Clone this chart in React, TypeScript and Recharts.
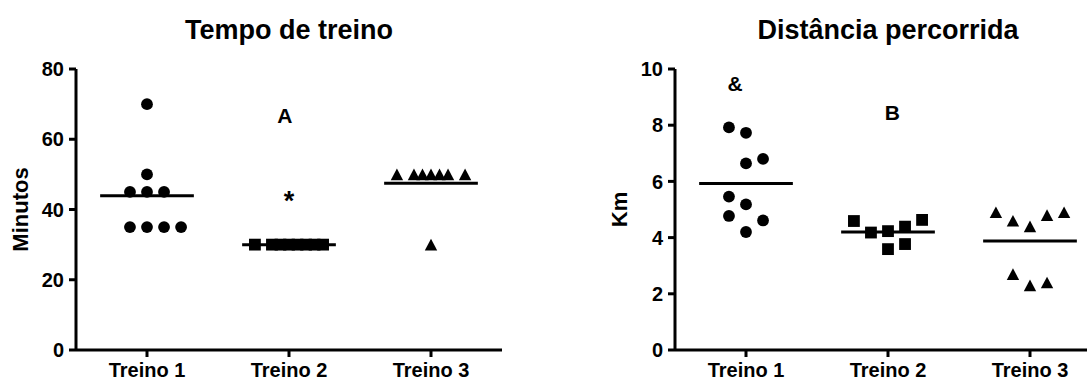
import React from 'react';
import { ScatterChart, Scatter, XAxis, YAxis, ReferenceLine, Label } from 'recharts';

const FONT = "'Liberation Sans', Arial, Helvetica, sans-serif";

const categories = ['Treino 1', 'Treino 2', 'Treino 3'];

// Tempo de treino (minutos) + horizontal jitter column of each point
const tempoT1 = [70, 50, 45, 45, 45, 35, 35, 35, 35];
const tempoT1Col = [0, 0, -2, 0, 2, -2, 0, 2, 4];
const tempoT2 = [30, 30, 30, 30, 30, 30, 30, 30];
const tempoT2Col = [-4, -2, -1, 0, 1, 2, 3, 4];
const tempoT3 = [50, 50, 50, 50, 50, 50, 50, 30];
const tempoT3Col = [-4, -2, -1, 0, 1, 2, 4, 0];
const tempoTicks = [0, 20, 40, 60, 80];

// Distância percorrida (km)
const distT1 = [7.92, 7.73, 6.64, 6.8, 5.46, 5.18, 4.77, 4.61, 4.2];
const distT1Col = [-2, 0, 0, 2, -2, 0, -2, 2, 0];
const distT2 = [4.59, 4.18, 4.23, 4.39, 4.63, 3.59, 3.77];
const distT2Col = [-4, -2, 0, 2, 4, 0, 2];
const distT3 = [4.9, 4.6, 4.4, 4.8, 4.9, 2.7, 2.3, 2.4];
const distT3Col = [-4, -2, 0, 2, 4, -2, 0, 2];
const distTicks = [0, 2, 4, 6, 8, 10];

// annotations (group position, value)
const tempoNotes = [
  { label: 'A', x: 1.97, y: 64.5, size: 21 },
  { label: '*', x: 2, y: 40, size: 27 },
];
const distNotes = [
  { label: '&', x: 0.923, y: 9.23, size: 21 },
  { label: 'B', x: 2.03, y: 8.19, size: 21 },
];

const JITTER = 0.06;
const MEAN_HALF = 0.33;

const build = (group: number, vals: number[], cols: number[]) =>
  vals.map((v, i) => ({ x: group + cols[i] * JITTER, y: v }));
const mean = (vals: number[]) => vals.reduce((a, b) => a + b, 0) / vals.length;

const CircleShape = (p: any) => <circle cx={p.cx} cy={p.cy} r={5.9} fill="#000" />;
const SquareShape = (p: any) => (
  <rect x={p.cx - 5.9} y={p.cy - 5.9} width={11.8} height={11.8} fill="#000" />
);
const TriangleShape = (p: any) => (
  <polygon
    points={`${p.cx},${p.cy - 5.8} ${p.cx - 6.2},${p.cy + 5.8} ${p.cx + 6.2},${p.cy + 5.8}`}
    fill="#000"
  />
);
const NoteShape = (p: any) => (
  <text
    x={p.cx}
    y={p.cy}
    textAnchor="middle"
    fontSize={p.payload.size}
    fontWeight="bold"
    fontFamily={FONT}
    fill="#000"
  >
    {p.payload.label}
  </text>
);

const shapes = [CircleShape, SquareShape, TriangleShape];

type PanelProps = {
  left: number;
  title: string;
  yLabel: string;
  yMax: number;
  yTicks: number[];
  groups: { vals: number[]; cols: number[] }[];
  notes: { label: string; x: number; y: number; size: number }[];
};

function Panel({ left, title, yLabel, yMax, yTicks, groups, notes }: PanelProps) {
  const tickStyle = { fill: '#000', fontSize: 20, fontWeight: 'bold', fontFamily: FONT };
  return (
    <div style={{ position: 'absolute', left, top: 0, width: 540, height: 380 }}>
      <div
        style={{
          position: 'absolute',
          left: 76,
          width: 426,
          top: 17,
          textAlign: 'center',
          fontSize: 27,
          lineHeight: '27px',
          fontWeight: 'bold',
          fontFamily: FONT,
          color: '#000',
          whiteSpace: 'nowrap',
        }}
      >
        {title}
      </div>
      <ScatterChart width={540} height={380} margin={{ top: 69, right: 38, bottom: 0, left: 0 }}>
        <XAxis
          type="number"
          dataKey="x"
          domain={[0.5, 3.5]}
          ticks={[1, 2, 3]}
          interval={0}
          allowDataOverflow
          tickFormatter={(v: number) => categories[Math.round(v) - 1]}
          axisLine={{ stroke: '#000', strokeWidth: 3 }}
          tickLine={{ stroke: '#000', strokeWidth: 3 }}
          tickSize={7}
          tickMargin={6}
          height={30}
          tick={tickStyle}
        />
        <YAxis
          type="number"
          dataKey="y"
          domain={[0, yMax]}
          ticks={yTicks}
          interval={0}
          allowDataOverflow
          width={76}
          axisLine={{ stroke: '#000', strokeWidth: 3 }}
          tickLine={{ stroke: '#000', strokeWidth: 3 }}
          tickSize={7}
          tickMargin={5}
          tick={tickStyle}
        >
          <Label
            value={yLabel}
            angle={-90}
            position="insideLeft"
            offset={20}
            style={{ textAnchor: 'middle', fontSize: 22, fontWeight: 'bold', fontFamily: FONT, fill: '#000' }}
          />
        </YAxis>
        {groups.map((g, i) => (
          <Scatter
            key={'s' + i}
            data={build(i + 1, g.vals, g.cols)}
            shape={shapes[i]}
            isAnimationActive={false}
          />
        ))}
        {groups.map((g, i) => (
          <ReferenceLine
            key={'m' + i}
            segment={[
              { x: i + 1 - MEAN_HALF, y: mean(g.vals) },
              { x: i + 1 + MEAN_HALF, y: mean(g.vals) },
            ]}
            stroke="#000"
            strokeWidth={3}
          />
        ))}
        <Scatter data={notes} shape={NoteShape} isAnimationActive={false} />
      </ScatterChart>
    </div>
  );
}

export default function App() {
  return (
    <div
      style={{
        position: 'absolute',
        left: 0,
        top: 0,
        width: 1087,
        height: 380,
        overflow: 'hidden',
        background: '#fff',
      }}
    >
      <Panel
        left={0}
        title="Tempo de treino"
        yLabel="Minutos"
        yMax={80}
        yTicks={tempoTicks}
        groups={[
          { vals: tempoT1, cols: tempoT1Col },
          { vals: tempoT2, cols: tempoT2Col },
          { vals: tempoT3, cols: tempoT3Col },
        ]}
        notes={tempoNotes}
      />
      <Panel
        left={599}
        title="Distância percorrida"
        yLabel="Km"
        yMax={10}
        yTicks={distTicks}
        groups={[
          { vals: distT1, cols: distT1Col },
          { vals: distT2, cols: distT2Col },
          { vals: distT3, cols: distT3Col },
        ]}
        notes={distNotes}
      />
    </div>
  );
}
